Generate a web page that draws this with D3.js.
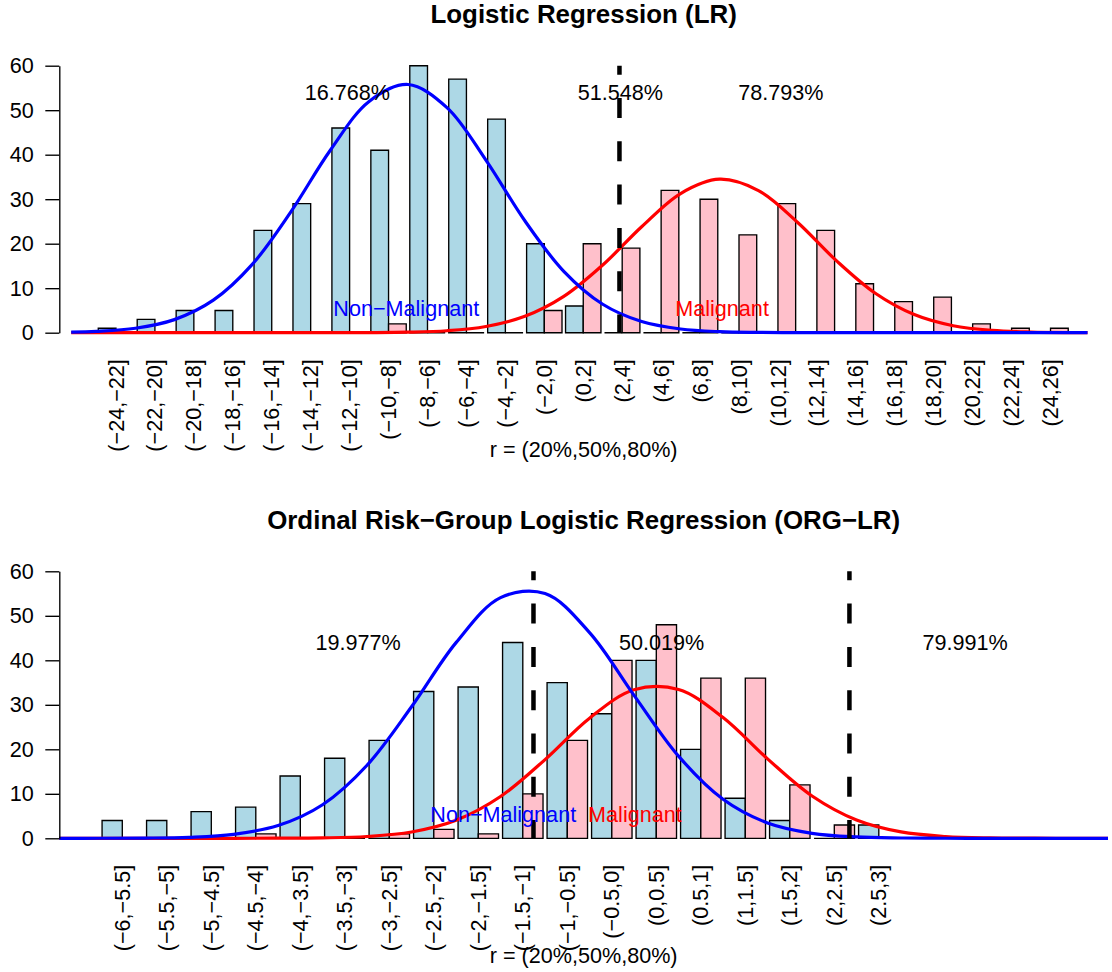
<!DOCTYPE html>
<html>
<head>
<meta charset="utf-8">
<script src="https://cdn.jsdelivr.net/npm/d3@7.9.0/dist/d3.min.js"></script>
<style>
  body { margin: 0; background: #fff; }
  svg { display: block; font-family: 'Liberation Sans', Arial, sans-serif; }
</style>
</head>
<body>
<svg id="chart" width="1112" height="972"></svg>
<script>
// ---- top panel: Logistic Regression ----
const lrCategories = ['(−24,−22]', '(−22,−20]', '(−20,−18]', '(−18,−16]', '(−16,−14]', '(−14,−12]',
  '(−12,−10]', '(−10,−8]', '(−8,−6]', '(−6,−4]', '(−4,−2]', '(−2,0]', '(0,2]', '(2,4]', '(4,6]',
  '(6,8]', '(8,10]', '(10,12]', '(12,14]', '(14,16]', '(16,18]', '(18,20]', '(20,22]', '(22,24]', '(24,26]'];
const lrNonMalignant = [1, 3, 5, 5, 23, 29, 46, 41, 60, 57, 48, 20, 6, 0, 0, 0, 0, 0, 0, 0, 0, 0, 0, 0, 0];
const lrMalignant = [0, 0, 0, 0, 0, 0, 0, 2, 0, 0, 0, 5, 20, 19, 32, 30, 22, 29, 23, 11, 7, 8, 2, 1, 1];

// fitted density curves (score, count)
const lrCurveX = [-25.3, -24, -22, -20, -18, -16, -14, -12, -10, -8, -6, -4, -2, 0, 2, 4, 6, 8,
  10, 12, 14, 16, 18, 20, 22, 24, 26, 26.9];
const lrNonMalignantFit = [0.12, 0.29, 1.0, 2.94, 7.31, 15.35, 27.27, 40.94, 51.97, 55.77, 50.59, 38.8,
  25.15, 13.79, 6.39, 2.5, 0.83, 0.23, 0.06, 0.01, 0, 0, 0, 0, 0, 0, 0, 0];
const lrMalignantFit = [0, 0, 0, 0, 0, 0, 0, 0.01, 0.03, 0.12, 0.44, 1.39, 3.67, 8.15, 15.2, 23.8,
  31.27, 34.49, 31.93, 24.82, 16.19, 8.87, 4.08, 1.57, 0.51, 0.14, 0.03, 0.02];

const lrCutoffs = [2.86];
const lrRiskLabels = ['16.768%', '51.548%', '78.793%'];
const lrRiskX = [-11.11, 2.91, 11.15];

// ---- bottom panel: ORG-LR ----
const orgCategories = ['(−6,−5.5]', '(−5.5,−5]', '(−5,−4.5]', '(−4.5,−4]', '(−4,−3.5]', '(−3.5,−3]',
  '(−3,−2.5]', '(−2.5,−2]', '(−2,−1.5]', '(−1.5,−1]', '(−1,−0.5]', '(−0.5,0]', '(0,0.5]', '(0.5,1]',
  '(1,1.5]', '(1.5,2]', '(2,2.5]', '(2.5,3]'];
const orgNonMalignant = [4, 4, 6, 7, 14, 18, 22, 33, 34, 44, 35, 28, 40, 20, 9, 4, 0, 3];
const orgMalignant = [0, 0, 0, 1, 0, 0, 1, 2, 1, 10, 22, 40, 48, 36, 36, 12, 3, 0];

const orgCurveX = [-6.5, -6, -5.5, -5, -4.5, -4, -3.5, -3, -2.5, -2, -1.5, -1, -0.5, 0, 0.5, 1, 1.5,
  2, 2.5, 3, 3.5, 4, 4.5, 5, 5.5];
const orgNonMalignantFit = [0, 0.01, 0.05, 0.23, 0.9, 2.86, 7.54, 16.42, 29.55, 43.97, 54.09, 55.0,
  46.23, 32.13, 18.46, 8.77, 3.44, 1.12, 0.3, 0.07, 0.01, 0, 0, 0, 0];
const orgMalignantFit = [0, 0, 0, 0, 0, 0.02, 0.09, 0.4, 1.41, 4.04, 9.39, 17.69, 27.0, 33.38, 33.44,
  27.14, 17.85, 9.51, 4.11, 1.43, 0.41, 0.09, 0.02, 0, 0];

const orgCutoffs = [-1.13, 2.42];
const orgRiskLabels = ['19.977%', '50.019%', '79.991%'];
const orgRiskX = [-3.10, 0.31, 3.72];

const yTicks = [0, 10, 20, 30, 40, 50, 60];

const svg = d3.select('#chart');
const plotLeft = 59.3, plotRight = 1108;
const fontSize = 21.6;

function drawPanel(offsetY, opt, id) {
  const g = svg.append('g').attr('transform', `translate(0,${offsetY})`);

  const x = d3.scaleBand()
    .domain(opt.categories)
    .range(opt.bandRange)
    .paddingInner(0.2 / 2.2)
    .paddingOuter(0.1 / 2.2);
  const xs = d3.scaleBand().domain(['non', 'mal']).range([0, x.bandwidth()]);
  const y = d3.scaleLinear().domain([0, 60]).range([332.7, 65.7]);

  const n = opt.categories.length;
  const score = d3.scaleLinear()
    .domain(opt.scoreDomain)
    .range([x(opt.categories[0]) + x.bandwidth() / 2, x(opt.categories[n - 1]) + x.bandwidth() / 2]);

  // bars (zero-height bars still show as a black line, like R)
  const rows = opt.categories.map((c, i) => ({ c, non: opt.non[i], mal: opt.mal[i] }));
  g.selectAll('g.grp')
    .data(rows)
    .join('g')
    .attr('class', 'grp')
    .attr('transform', d => `translate(${x(d.c)},0)`)
    .selectAll('path')
    .data(d => [['non', d.non], ['mal', d.mal]])
    .join('path')
    .attr('d', ([k, v]) => {
      const x0 = xs(k), x1 = x0 + xs.bandwidth();
      return `M${x0},${y(0)}V${y(v)}H${x1}V${y(0)}Z`;
    })
    .attr('fill', ([k]) => (k === 'non' ? '#add8e6' : '#ffc0cb'))
    .attr('stroke', '#000')
    .attr('stroke-width', 1.35);

  // fitted curves
  svg.append('clipPath').attr('id', id)
    .append('rect').attr('x', plotLeft).attr('y', 0).attr('width', plotRight - plotLeft).attr('height', 400);
  const line = d3.line()
    .x(d => score(d[0]))
    .y(d => y(d[1]))
    .curve(d3.curveCatmullRom.alpha(0.5));
  const curves = g.append('g').attr('clip-path', `url(#${id})`);
  curves.append('path')
    .attr('d', line(opt.curveX.map((s, i) => [s, opt.malFit[i]])))
    .attr('fill', 'none').attr('stroke', '#ff0000').attr('stroke-width', 3.2);
  curves.append('path')
    .attr('d', line(opt.curveX.map((s, i) => [s, opt.nonFit[i]])))
    .attr('fill', 'none').attr('stroke', '#0000ff').attr('stroke-width', 3.2);

  // cut-off lines
  g.selectAll('line.cut')
    .data(opt.cutoffs)
    .join('line')
    .attr('class', 'cut')
    .attr('x1', d => score(d)).attr('x2', d => score(d))
    .attr('y1', y(60)).attr('y2', y(0))
    .attr('stroke', '#000')
    .attr('stroke-width', 4.5)
    .attr('stroke-dasharray', '20,23.3')
    .attr('stroke-dashoffset', 11);

  // risk percentages
  g.selectAll('text.risk')
    .data(opt.riskLabels)
    .join('text')
    .attr('class', 'risk')
    .attr('x', (d, i) => score(opt.riskX[i]))
    .attr('y', y(opt.riskY))
    .attr('dy', '0.35em')
    .attr('text-anchor', 'middle')
    .attr('font-size', fontSize)
    .text(d => d);

  // group names
  const groupNames = [['Non−Malignant', opt.nameX[0], '#0000ff'], ['Malignant', opt.nameX[1], '#ff0000']];
  g.selectAll('text.name')
    .data(groupNames)
    .join('text')
    .attr('class', 'name')
    .attr('x', d => score(d[1]))
    .attr('y', y(5.4))
    .attr('dy', '0.35em')
    .attr('text-anchor', 'middle')
    .attr('font-size', fontSize)
    .attr('fill', d => d[2])
    .text(d => d[0]);

  // y axis
  const yAxis = g.append('g')
    .attr('transform', `translate(${plotLeft},0)`)
    .call(d3.axisLeft(y).tickValues(yTicks).tickSize(14).tickSizeOuter(0).tickPadding(11.5));
  yAxis.selectAll('path, line').attr('stroke', '#000').attr('stroke-width', 1.35);
  yAxis.selectAll('text').attr('font-size', fontSize).attr('font-family', null).attr('fill', '#000');

  // x category labels
  const xAxis = g.append('g')
    .attr('transform', `translate(0,${y(0)})`)
    .call(d3.axisBottom(x).tickSize(0).tickPadding(0));
  xAxis.select('.domain').remove();
  xAxis.selectAll('text')
    .attr('transform', 'rotate(-90)')
    .attr('x', -26.5)
    .attr('y', 0)
    .attr('dy', '0.35em')
    .attr('text-anchor', 'end')
    .attr('font-size', fontSize)
    .attr('font-family', null)
    .attr('fill', '#000');

  // title and axis title
  g.append('text')
    .attr('x', (plotLeft + plotRight) / 2)
    .attr('y', 23.3)
    .attr('text-anchor', 'middle')
    .attr('font-size', 25.9)
    .attr('font-weight', 'bold')
    .text(opt.title);
  g.append('text')
    .attr('x', (plotLeft + plotRight) / 2)
    .attr('y', 457)
    .attr('text-anchor', 'middle')
    .attr('font-size', fontSize)
    .text('r = (20%,50%,80%)');
}

drawPanel(0, {
  title: 'Logistic Regression (LR)',
  categories: lrCategories,
  non: lrNonMalignant,
  mal: lrMalignant,
  bandRange: [96.5, 1070.0],
  scoreDomain: [-23, 25],
  curveX: lrCurveX,
  nonFit: lrNonMalignantFit,
  malFit: lrMalignantFit,
  cutoffs: lrCutoffs,
  riskLabels: lrRiskLabels,
  riskX: lrRiskX,
  riskY: 54,
  nameX: [-8.09, 8.13],
}, 'clipTop');

drawPanel(505.6, {
  title: 'Ordinal Risk−Group Logistic Regression (ORG−LR)',
  categories: orgCategories,
  non: orgNonMalignant,
  mal: orgMalignant,
  bandRange: [100.05, 901.05],
  scoreDomain: [-5.75, 2.75],
  curveX: orgCurveX,
  nonFit: orgNonMalignantFit,
  malFit: orgMalignantFit,
  cutoffs: orgCutoffs,
  riskLabels: orgRiskLabels,
  riskX: orgRiskX,
  riskY: 44.1,
  nameX: [-1.47, 0.01],
}, 'clipBottom');
</script>
</body>
</html>
